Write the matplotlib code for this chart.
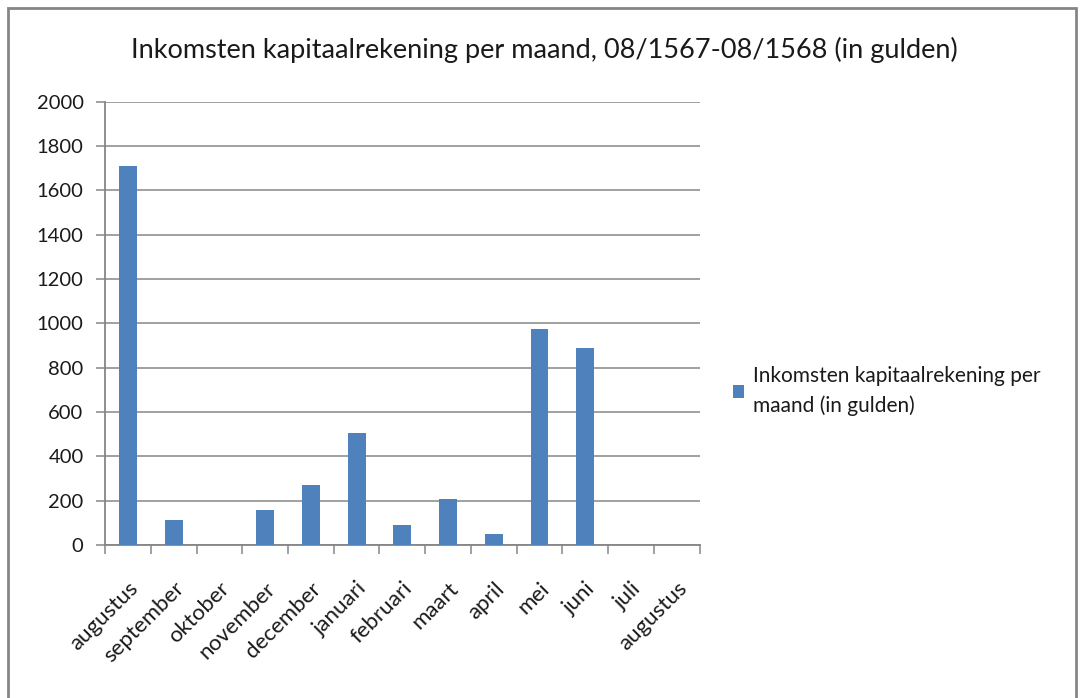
import matplotlib
matplotlib.use("Agg")
import matplotlib.pyplot as plt
from matplotlib.legend_handler import HandlerPatch
from matplotlib.patches import Rectangle
from matplotlib.transforms import ScaledTranslation
import numpy as np

BAR_BLUE = "#4f81bd"
GRID_GRAY = "#868686"
TEXT_DARK = "#1a1a1a"

months = ["augustus", "september", "oktober", "november", "december", "januari",
          "februari", "maart", "april", "mei", "juni", "juli", "augustus"]
income = [1710, 113, 0, 158, 271, 505, 90, 207, 50, 974, 889, 0, 0]
series_label = "Inkomsten kapitaalrekening per\nmaand (in gulden)"
title = "Inkomsten kapitaalrekening per maand, 08/1567-08/1568 (in gulden)"
y_ticks = list(range(0, 2001, 200))

plt.rcParams["font.family"] = ["Lato", "DejaVu Sans"]


def raised_square(legend, orig_handle, xdescent, ydescent, width, height, fontsize):
    # Excel puts the legend key next to the first line of a wrapped label
    return Rectangle((-xdescent, -ydescent + 12.0), width, height)


fig = plt.figure(figsize=(10.83, 6.98), dpi=100)
fig.patches.append(Rectangle((0.0075, -0.1), 0.986, 1.0885, transform=fig.transFigure,
                             fill=False, edgecolor=GRID_GRAY, linewidth=2))

ax = fig.add_axes([0.0970, 0.2192, 0.5490, 0.6353])
x = np.arange(len(months))
ax.bar(x, income, width=0.39, color=BAR_BLUE, label=series_label, zorder=3)

ax.set_xlim(-0.5, len(months) - 0.5)
ax.set_ylim(0, 2000)
ax.set_yticks(y_ticks)
ax.set_yticklabels([str(v) for v in y_ticks], fontsize=14.5, color=TEXT_DARK)
ax.yaxis.grid(True, color=GRID_GRAY, linewidth=1.1)
ax.set_axisbelow(True)

ax.set_xticks(x)
ax.set_xticklabels(months, rotation=45, ha="right", va="top", rotation_mode="anchor",
                   fontsize=16, color=TEXT_DARK)
shift = ScaledTranslation(-4 / 72, 0, fig.dpi_scale_trans)
for lbl in ax.get_xticklabels():
    lbl.set_transform(lbl.get_transform() + shift)
ax.set_xticks(np.arange(-0.5, len(months)), minor=True)
ax.tick_params(axis="x", which="major", length=0, pad=24)
ax.tick_params(axis="x", which="minor", length=6.5, width=1.1, color=GRID_GRAY)
ax.tick_params(axis="y", length=6.5, width=1.1, color=GRID_GRAY, pad=9)

for side in ("top", "right"):
    ax.spines[side].set_visible(False)
for side in ("left", "bottom"):
    ax.spines[side].set_color(GRID_GRAY)
    ax.spines[side].set_linewidth(1.3)

fig.text(0.503, 0.928, title, ha="center", va="center", fontsize=19.5, color=TEXT_DARK)

leg = fig.legend(loc="center left", bbox_to_anchor=(0.6768, 0.4398), frameon=False,
                 fontsize=15, handlelength=0.53, handleheight=0.53, handletextpad=0.45,
                 borderpad=0, borderaxespad=0,
                 handler_map={Rectangle: HandlerPatch(patch_func=raised_square)})
for t in leg.get_texts():
    t.set_linespacing(1.55)
    t.set_color(TEXT_DARK)

fig.savefig("out.png", dpi=100)
